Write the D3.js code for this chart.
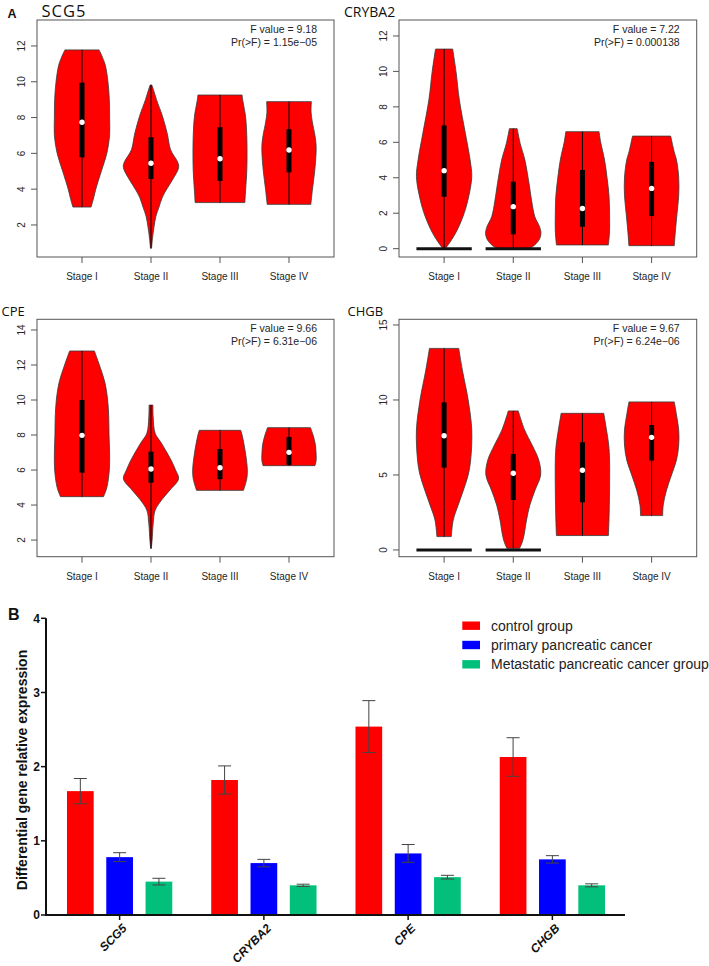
<!DOCTYPE html>
<html><head><meta charset="utf-8">
<script src="https://cdn.jsdelivr.net/npm/d3@7/dist/d3.min.js"></script>
<style>body{margin:0;background:#fff}svg{display:block}</style>
</head><body>
<svg id="c" width="709" height="966"></svg>
<script>
// ---------------- DATA ----------------
const stages = ["Stage I", "Stage II", "Stage III", "Stage IV"];
const genesA = ["SCG5", "CRYBA2", "CPE", "CHGB"];
const fValues = ["9.18", "7.22", "9.66", "9.67"];
const pValues = ["1.15e\u221205", "0.000138", "6.31e\u221206", "6.24e\u221206"];

// violin summary per stage: [min, q1, median, q3, max]
const statsSCG5   = [[3.0, 5.78, 7.74, 9.95, 11.78], [0.70, 4.57, 5.45, 6.9, 9.82], [3.25, 4.46, 5.7, 7.46, 9.26], [3.15, 4.94, 6.19, 7.35, 8.89]];
const statsCRYBA2 = [[0, 2.93, 4.4, 6.95, 11.26], [0, 0.81, 2.37, 3.78, 6.77], [0.21, 1.24, 2.27, 4.44, 6.6], [0.17, 1.84, 3.4, 4.89, 6.35]];
const statsCPE    = [[4.48, 5.85, 7.98, 10.0, 12.8], [1.52, 5.28, 6.06, 7.05, 9.71], [4.84, 5.48, 6.13, 7.2, 8.27], [6.25, 6.29, 7.01, 7.89, 8.42]];
const statsCHGB   = [[0.89, 5.49, 7.62, 9.84, 13.44], [0.11, 3.33, 5.11, 6.4, 9.27], [0.96, 3.18, 5.31, 7.18, 9.11], [2.29, 5.96, 7.51, 8.33, 9.87]];

// violin density outline per stage: [value, relative half width]
const densSCG5 = [
  [[3.0,0.33],[3.5,0.42],[4,0.5],[5,0.7],[6,0.9],[7,1.0],[8,1.0],[9,0.99],[10,0.94],[11,0.83],[11.78,0.62]],
  [[0.70,0.02],[1.2,0.05],[1.9,0.11],[2.5,0.18],[3.0,0.29],[3.5,0.4],[3.9,0.53],[4.5,0.77],[5.2,1.0],[5.5,0.97],[6.2,0.71],[7.1,0.59],[8.1,0.41],[9.0,0.2],[9.5,0.1],[9.82,0.03]],
  [[3.25,0.9],[4,0.93],[5,0.97],[6,0.98],[7,0.97],[8,0.93],[8.5,0.88],[9.0,0.82],[9.26,0.8]],
  [[3.15,0.79],[4,0.85],[5,0.93],[6,0.98],[6.5,0.98],[7,0.94],[7.8,0.84],[8.3,0.8],[8.89,0.81]]
];
const densCRYBA2 = [
  [[0,0.03],[0.1,0.09],[0.86,0.41],[1.8,0.68],[2.74,0.86],[4.06,1.0],[5,0.94],[6.5,0.77],[8.4,0.55],[10,0.43],[11.26,0.31]],
  [[0,0.45],[0.11,0.69],[0.49,0.93],[0.86,1.0],[1.24,0.95],[1.8,0.78],[2.74,0.66],[3.68,0.57],[5,0.42],[5.94,0.25],[6.77,0.14]],
  [[0.21,0.94],[1,0.98],[2,0.98],[3,0.96],[4,0.89],[5,0.8],[6,0.66],[6.6,0.6]],
  [[0.17,0.82],[1,0.86],[2,0.92],[3,0.98],[4,0.98],[5,0.9],[5.5,0.81],[6.35,0.69]]
];
const densCPE = [
  [[4.48,0.78],[5,0.9],[6,0.99],[7,1.0],[8,0.98],[9,0.97],[10,0.93],[11,0.83],[12,0.63],[12.8,0.45]],
  [[1.52,0.01],[2,0.04],[2.95,0.08],[3.7,0.15],[4.3,0.39],[4.86,0.69],[5.5,1.0],[6.0,0.89],[6.5,0.75],[7.1,0.54],[7.6,0.35],[8.1,0.15],[9,0.08],[9.71,0.07]],
  [[4.84,0.85],[5.5,0.97],[6,0.99],[7,0.92],[8,0.8],[8.27,0.75]],
  [[6.25,0.94],[6.5,0.98],[7,0.98],[7.5,0.95],[8,0.87],[8.42,0.78]]
];
const densCHGB = [
  [[0.89,0.26],[2,0.33],[3,0.51],[4,0.7],[5,0.87],[6,0.96],[8,1.0],[10,0.87],[12,0.66],[13.44,0.53]],
  [[0.11,0.23],[0.5,0.32],[1,0.39],[2,0.48],[3,0.6],[4,0.79],[5,0.99],[6,0.92],[7,0.68],[8,0.41],[9.27,0.18]],
  [[0.96,0.94],[2,0.96],[4,0.98],[6,0.98],[7,0.95],[8,0.87],[9.11,0.77]],
  [[2.29,0.4],[3,0.42],[4,0.54],[5,0.72],[6,0.9],[7,0.98],[8,0.98],[9,0.9],[9.87,0.82]]
];
// stages with a block of zero values drawn as a bar at 0
const zeroSCG5 = [false, false, false, false];
const zeroCRYBA2 = [true, true, false, false];
const zeroCPE = [false, false, false, false];
const zeroCHGB = [true, true, false, false];

const ticksSCG5 = [2, 4, 6, 8, 10, 12];
const ticksCRYBA2 = [0, 2, 4, 6, 8, 10, 12];
const ticksCPE = [2, 4, 6, 8, 10, 12, 14];
const ticksCHGB = [0, 5, 10, 15];

// panel B
const genesB = ["SCG5", "CRYBA2", "CPE", "CHGB"];
const groupNames = ["control group", "primary pancreatic cancer", "Metastatic pancreatic cancer group"];
const controlMean = [1.67, 1.82, 2.54, 2.13];
const controlErr  = [0.17, 0.19, 0.35, 0.26];
const primaryMean = [0.78, 0.70, 0.83, 0.75];
const primaryErr  = [0.06, 0.05, 0.12, 0.05];
const metaMean    = [0.45, 0.40, 0.51, 0.40];
const metaErr     = [0.045, 0.015, 0.025, 0.02];
const ticksB = [0, 1, 2, 3, 4];

// ---------------- LAYOUT ----------------
const svg = d3.select("#c");
const FONT = "'Liberation Sans', Arial, sans-serif";
const TXT = "#262626";

const panelsA = [
  {gene: 0, stats: statsSCG5, dens: densSCG5, zero: zeroSCG5, ticks: ticksSCG5, yDom: [0.21, 13.45],
   box: [37, 20, 334, 257], title: {x: 41.5, y: 17, size: 16.5, ls: 1}},
  {gene: 1, stats: statsCRYBA2, dens: densCRYBA2, zero: zeroCRYBA2, ticks: ticksCRYBA2, yDom: [-0.47, 12.9],
   box: [399, 20, 696.7, 257], title: {x: 344, y: 17, size: 14, ls: 0}},
  {gene: 2, stats: statsCPE, dens: densCPE, zero: zeroCPE, ticks: ticksCPE, yDom: [1.05, 14.61],
   box: [37, 319.3, 334, 556.7], title: {x: 1.5, y: 316, size: 13, ls: 0}},
  {gene: 3, stats: statsCHGB, dens: densCHGB, zero: zeroCHGB, ticks: ticksCHGB, yDom: [-0.45, 15.38],
   box: [399, 319.3, 696.7, 556.7], title: {x: 347.5, y: 316, size: 13, ls: 0}}
];

svg.append("text").attr("x", 7.5).attr("y", 18).text("A")
  .attr("font-family", FONT).attr("font-weight", "bold").attr("font-size", 12.5).attr("fill", "#111");

panelsA.forEach(p => {
  const [L, T, R, B] = p.box;
  const x = d3.scaleLinear().domain([0.348, 4.652]).range([L, R]);
  const y = d3.scaleLinear().domain(p.yDom).range([B, T]);
  const g = svg.append("g");
  const halfW = 0.4;

  p.stats.forEach((s, i) => {
    const cx = i + 1;
    const pts = p.dens[i].slice().sort((a, b) => b[0] - a[0]);
    const area = d3.area().curve(d3.curveCatmullRom.alpha(0.5))
      .y(d => y(d[0]))
      .x0(d => x(cx - halfW * d[1]))
      .x1(d => x(cx + halfW * d[1]));
    g.append("path").attr("d", area(pts))
      .attr("fill", "#ff0000").attr("stroke", "#3a3a3a").attr("stroke-width", 0.8);
    // whisker line
    g.append("line").attr("x1", x(cx)).attr("x2", x(cx)).attr("y1", y(s[0])).attr("y2", y(s[4]))
      .attr("stroke", "#000").attr("stroke-width", 1);
    if (p.zero[i]) {
      g.append("line").attr("x1", x(cx - halfW)).attr("x2", x(cx + halfW)).attr("y1", y(0)).attr("y2", y(0))
        .attr("stroke", "#111").attr("stroke-width", 3);
    }
    // IQR box
    g.append("rect").attr("x", x(cx) - 2.5).attr("width", 5)
      .attr("y", y(s[3])).attr("height", y(s[1]) - y(s[3])).attr("fill", "#000");
    g.append("circle").attr("cx", x(cx)).attr("cy", y(s[2])).attr("r", 2.7).attr("fill", "#fff");
  });

  // frame
  g.append("rect").attr("x", L).attr("y", T).attr("width", R - L).attr("height", B - T)
    .attr("fill", "none").attr("stroke", "#555").attr("stroke-width", 1);

  // y ticks
  p.ticks.forEach(t => {
    g.append("line").attr("x1", L).attr("x2", L - 6).attr("y1", y(t)).attr("y2", y(t))
      .attr("stroke", "#555").attr("stroke-width", 1);
    g.append("text").attr("transform", `translate(${L - 16},${y(t)}) rotate(-90)`)
      .attr("text-anchor", "middle").attr("dy", "0.35em").text(t)
      .attr("font-family", FONT).attr("font-size", 10).attr("fill", TXT);
  });
  // x ticks
  stages.forEach((st, i) => {
    g.append("line").attr("x1", x(i + 1)).attr("x2", x(i + 1)).attr("y1", B).attr("y2", B + 6)
      .attr("stroke", "#555").attr("stroke-width", 1);
    g.append("text").attr("x", x(i + 1)).attr("y", B + 23).attr("text-anchor", "middle").text(st)
      .attr("font-family", FONT).attr("font-size", 10).attr("fill", TXT);
  });
  // stats text
  g.append("text").attr("x", R - 17).attr("y", T + 13).attr("text-anchor", "end")
    .text("F value = " + fValues[p.gene]).attr("font-family", FONT).attr("font-size", 10.5).attr("fill", TXT);
  g.append("text").attr("x", R - 17).attr("y", T + 26).attr("text-anchor", "end")
    .text("Pr(>F) = " + pValues[p.gene]).attr("font-family", FONT).attr("font-size", 10.5).attr("fill", TXT);
  // gene title
  g.append("text").attr("x", p.title.x).attr("y", p.title.y).text(genesA[p.gene])
    .attr("font-family", "'Open Sans', sans-serif").attr("font-size", p.title.size)
    .attr("letter-spacing", p.title.ls).attr("fill", "#111");
});

// ---------------- PANEL B ----------------
const gB = svg.append("g");
const yB = d3.scaleLinear().domain([0, 4]).range([915, 618.3]);
const xB = d3.scaleBand().domain(genesB).range([47.5, 624.5]);
const inner = d3.scaleBand().domain(groupNames).range([-52.65, 52.65]).paddingInner(0.32);
const colors = ["#ff0000", "#0000ff", "#02c07b"];
const means = [controlMean, primaryMean, metaMean];
const errs = [controlErr, primaryErr, metaErr];

svg.append("text").attr("x", 8).attr("y", 620).text("B")
  .attr("font-family", FONT).attr("font-weight", "bold").attr("font-size", 16).attr("fill", "#111");

groupNames.forEach((gn, k) => {
  genesB.forEach((gene, i) => {
    const cx = xB(gene) + xB.bandwidth() / 2 + inner(gn);
    const bw = inner.bandwidth();
    const m = means[k][i], e = errs[k][i];
    gB.append("rect").attr("x", cx).attr("width", bw).attr("y", yB(m)).attr("height", yB(0) - yB(m))
      .attr("fill", colors[k]);
    const ex = cx + bw / 2;
    gB.append("line").attr("x1", ex).attr("x2", ex).attr("y1", yB(m - e)).attr("y2", yB(m + e))
      .attr("stroke", "#444").attr("stroke-width", 1);
    [m - e, m + e].forEach(v => {
      gB.append("line").attr("x1", ex - 6.5).attr("x2", ex + 6.5).attr("y1", yB(v)).attr("y2", yB(v))
        .attr("stroke", "#444").attr("stroke-width", 1);
    });
  });
});

// axes
gB.append("line").attr("x1", 46).attr("x2", 46).attr("y1", yB(4)).attr("y2", yB(0) + 1)
  .attr("stroke", "#111").attr("stroke-width", 2);
gB.append("line").attr("x1", 45).attr("x2", 625).attr("y1", yB(0)).attr("y2", yB(0))
  .attr("stroke", "#111").attr("stroke-width", 2);
ticksB.forEach(t => {
  gB.append("line").attr("x1", 41).attr("x2", 46).attr("y1", yB(t)).attr("y2", yB(t))
    .attr("stroke", "#111").attr("stroke-width", 1.5);
  gB.append("text").attr("x", 40).attr("y", yB(t)).attr("dy", "0.36em").attr("text-anchor", "end").text(t)
    .attr("font-family", FONT).attr("font-weight", "bold").attr("font-size", 12).attr("fill", "#111");
});
genesB.forEach(gene => {
  const cx = xB(gene) + xB.bandwidth() / 2;
  gB.append("line").attr("x1", cx).attr("x2", cx).attr("y1", yB(0)).attr("y2", yB(0) + 5)
    .attr("stroke", "#111").attr("stroke-width", 1.5);
  gB.append("text").attr("transform", `translate(${cx + 5},${yB(0) + 11}) rotate(-45)`)
    .attr("text-anchor", "end").attr("dy", "0.35em").text(gene)
    .attr("font-family", FONT).attr("font-weight", "bold").attr("font-style", "italic")
    .attr("font-size", 12).attr("fill", "#111");
});
gB.append("text").attr("transform", `translate(27,770) rotate(-90)`).attr("text-anchor", "middle")
  .text("Differential gene relative expression")
  .attr("font-family", FONT).attr("font-weight", "bold").attr("font-size", 14).attr("fill", "#111");

// legend
const legY = [625.7, 645, 664.3];
groupNames.forEach((gn, k) => {
  gB.append("rect").attr("x", 462.3).attr("y", legY[k] - 4.2).attr("width", 17.7).attr("height", 8.4)
    .attr("fill", colors[k]);
  gB.append("text").attr("x", 491).attr("y", legY[k]).attr("dy", "0.35em").text(gn)
    .attr("font-family", FONT).attr("font-size", 14).attr("fill", "#222");
});
</script>
</body></html>
